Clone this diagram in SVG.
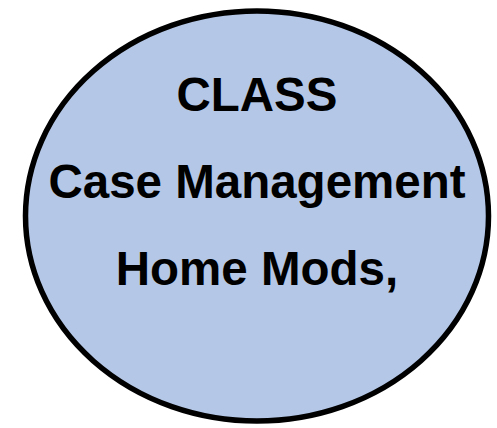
<svg xmlns="http://www.w3.org/2000/svg" width="497" height="428" viewBox="0 0 497 428">
<style>
.lbl{font-family:"Liberation Sans",Arial,sans-serif;font-weight:bold;font-size:47.5px;fill:#000;text-anchor:middle}
</style>
<g id="node-class">
<ellipse cx="257" cy="216" rx="231.5" ry="205" fill="#b4c7e7" stroke="#000" stroke-width="5.5"/>
<text class="lbl" x="257" y="111">CLASS</text>
<text class="lbl" x="257" y="198">Case Management</text>
<text class="lbl" x="257" y="285">Home Mods,</text>
</g>
<g id="connectors"></g>
</svg>
